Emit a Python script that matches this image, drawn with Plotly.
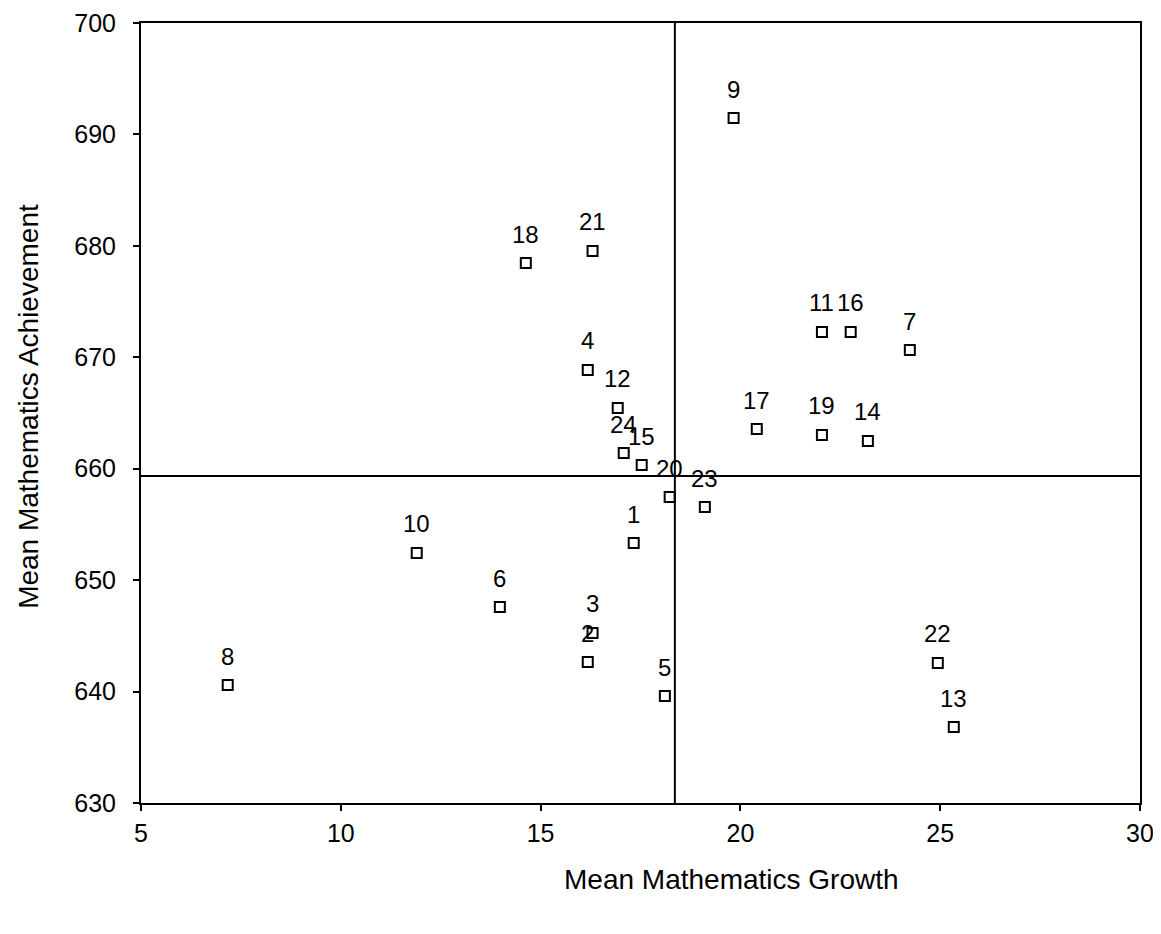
import plotly.graph_objects as go

# Data
ids = ["1", "2", "3", "4", "5", "6", "7", "8", "9", "10", "11", "12",
       "13", "14", "15", "16", "17", "18", "19", "20", "21", "22", "23", "24"]
growth = [17.33, 16.18, 16.30, 16.18, 18.11, 13.98, 24.24, 7.17, 19.83, 11.90, 22.04, 16.93,
          25.34, 23.19, 17.53, 22.76, 20.41, 14.63, 22.04, 18.23, 16.30, 24.94, 19.11, 17.08]
achievement = [653.33, 642.65, 645.26, 668.86, 639.60, 647.59, 670.65, 640.59, 691.47, 652.44, 672.27, 665.45,
               636.82, 662.49, 660.33, 672.27, 663.56, 678.46, 663.03, 657.46, 679.54, 642.57, 656.56, 661.41]

mean_growth = 18.36
mean_achievement = 659.34

x_ticks = [5, 10, 15, 20, 25, 30]
y_ticks = [630, 640, 650, 660, 670, 680, 690, 700]

FONT = "Liberation Sans, Arial, sans-serif"

fig = go.Figure()
fig.add_trace(go.Scatter(
    x=growth, y=achievement, mode="markers",
    marker=dict(symbol="square-open", size=10, color="black", line=dict(width=2, color="black")),
    hoverinfo="skip", showlegend=False,
))

for lab, xv, yv in zip(ids, growth, achievement):
    fig.add_annotation(x=xv, y=yv, text=lab, showarrow=False, yshift=29,
                       font=dict(family=FONT, size=24, color="black"))

fig.add_shape(type="line", xref="x", yref="y", x0=mean_growth, x1=mean_growth,
              y0=y_ticks[0], y1=y_ticks[-1], line=dict(color="black", width=2))
fig.add_shape(type="line", xref="x", yref="y", x0=x_ticks[0], x1=x_ticks[-1],
              y0=mean_achievement, y1=mean_achievement, line=dict(color="black", width=2))

fig.add_annotation(xref="paper", yref="paper", x=0.591, y=-0.0987, text="Mean Mathematics Growth",
                   showarrow=False, font=dict(family=FONT, size=28, color="black"),
                   xanchor="center", yanchor="middle")
fig.add_annotation(xref="paper", yref="paper", x=-0.112, y=0.508, text="Mean Mathematics Achievement",
                   showarrow=False, textangle=-90, font=dict(family=FONT, size=28, color="black"),
                   xanchor="center", yanchor="middle")

axis_common = dict(showline=True, linecolor="black", linewidth=2, mirror=True,
                   ticks="outside", ticklen=6, tickwidth=1.5, tickcolor="black",
                   showgrid=False, zeroline=False, automargin=False,
                   tickfont=dict(family=FONT, size=25, color="black"))

fig.update_xaxes(range=[x_ticks[0], x_ticks[-1]], tickvals=x_ticks, ticklabelstandoff=1, **axis_common)
fig.update_yaxes(range=[y_ticks[0], y_ticks[-1]], tickvals=y_ticks, ticklabelstandoff=12, **axis_common)

# The page body adds an 8px offset; size the figure so the plot lands where the reference has it.
fig.update_layout(
    width=1161, height=918,
    margin=dict(l=133, r=29, t=15, b=123, autoexpand=False),
    plot_bgcolor="white", paper_bgcolor="white",
    font=dict(family=FONT, color="black"),
)

fig.write_html("out.html")
